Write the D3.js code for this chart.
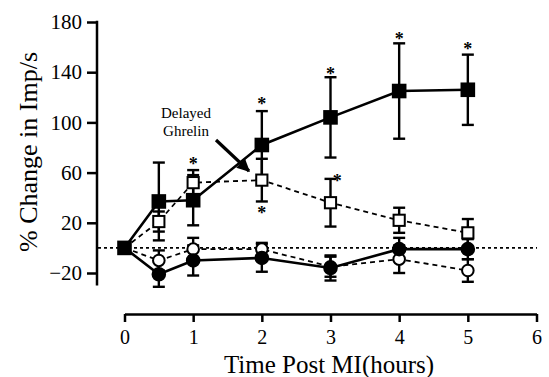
<!DOCTYPE html>
<html><head><meta charset="utf-8">
<script src="https://cdn.jsdelivr.net/npm/d3@7"></script>
<style>
html,body{margin:0;padding:0;background:#fff;}
svg{display:block;}
svg text{font-family:"Liberation Serif","Times New Roman",serif;fill:#000;}
</style></head>
<body><svg id="c" width="549" height="377"></svg>
<script>
const hours = [0, 0.5, 1, 2, 3, 4, 5];
const delayedGhrelin = [0, 37, 38, 82, 104, 125, 126];
const delayedGhrelinErr = [0, 31, 20, 27, 32, 38, 28];
const openSquare = [0, 21, 52, 54, 36, 22, 12];
const openSquareErr = [0, 8, 10, 17, 19, 10, 11];
const filledCircle = [0, -21, -10, -8, -16, -1, -1];
const filledCircleErr = [0, 10, 12, 11, 10, 9, 8];
const openCircle = [0, -10, -1, -1, -15, -9, -18];
const openCircleErr = [0, 8, 9, 5, 8, 11, 9];
const xTicks = [0, 1, 2, 3, 4, 5, 6];
const yTicks = [-20, 20, 60, 100, 140, 180];
const starX = [1, 2, 2, 3, 3.1, 4, 5];
const starY = [69, 117, 30, 141, 56, 169, 161];

const svg = d3.select("#c");
const x = d3.scaleLinear().domain([0, 6]).range([124.5, 536.5]);
const y = d3.scaleLinear().domain([-20, 180]).range([273, 22]);

// y axis
const yAxis = svg.append("g").attr("transform", "translate(97,0)")
  .call(d3.axisLeft(y).tickValues(yTicks).tickFormat(d3.format("d")).tickSize(10).tickPadding(5).tickSizeOuter(0));
yAxis.select(".domain").attr("d", `M0,${y(181)}V${y(-30)}`).attr("stroke-width", 2.5);
yAxis.selectAll(".tick line").attr("stroke-width", 2.5);
yAxis.selectAll("text").style("font-size", "21px").style("font-family", "'Liberation Serif', serif");

// x axis
const xAxis = svg.append("g").attr("transform", "translate(0,314)")
  .call(d3.axisBottom(x).tickValues(xTicks).tickFormat(d3.format("d")).tickSize(8).tickPadding(8).tickSizeOuter(0));
xAxis.select(".domain").attr("stroke-width", 2.5);
xAxis.selectAll(".tick line").attr("stroke-width", 2.5);
xAxis.selectAll("text").style("font-size", "20px").style("font-family", "'Liberation Serif', serif");

// titles
svg.append("text").attr("x", 329).attr("y", 373).attr("text-anchor", "middle")
  .style("font-size", "25px").text("Time Post MI(hours)");
svg.append("text").attr("transform", "translate(37,152) rotate(-90)").attr("text-anchor", "middle")
  .style("font-size", "26px").text("% Change in Imp/s");

// zero reference line
svg.append("line").attr("x1", 98).attr("x2", 537).attr("y1", y(0)).attr("y2", y(0))
  .attr("stroke", "#000").attr("stroke-width", 1.6).attr("stroke-dasharray", "3,3");

const series = [
  {v: openCircle, e: openCircleErr, dash: "5,4", shape: "circle", fill: "#fff"},
  {v: filledCircle, e: filledCircleErr, dash: null, shape: "circle", fill: "#000"},
  {v: openSquare, e: openSquareErr, dash: "5,4", shape: "square", fill: "#fff"},
  {v: delayedGhrelin, e: delayedGhrelinErr, dash: null, shape: "square", fill: "#000"}
];

const line = d3.line().x((d, i) => x(hours[i])).y(d => y(d));
series.forEach(s => {
  svg.append("path").attr("d", line(s.v)).attr("fill", "none").attr("stroke", "#000")
    .attr("stroke-width", s.dash ? 1.8 : 2.6).attr("stroke-dasharray", s.dash);
});

// error bars
series.forEach(s => {
  const g = svg.append("g").attr("stroke", "#000").attr("stroke-width", 2.4);
  s.v.forEach((v, i) => {
    if (!s.e[i]) return;
    const cx = x(hours[i]);
    const lo = y(v - s.e[i]), hi = y(v + s.e[i]);
    g.append("line").attr("x1", cx).attr("x2", cx).attr("y1", lo).attr("y2", hi);
    g.append("line").attr("x1", cx - 6).attr("x2", cx + 6).attr("y1", lo).attr("y2", lo);
    g.append("line").attr("x1", cx - 6).attr("x2", cx + 6).attr("y1", hi).attr("y2", hi);
  });
});

// markers
series.forEach(s => {
  s.v.forEach((v, i) => {
    const cx = x(hours[i]), cy = y(v);
    if (i === 0 && s.v !== delayedGhrelin) return;
    if (s.shape === "circle") {
      svg.append("circle").attr("cx", cx).attr("cy", cy).attr("r", s.fill === "#000" ? 6.3 : 5.8)
        .attr("fill", s.fill).attr("stroke", "#000").attr("stroke-width", 2);
    } else {
      const h = s.fill === "#000" ? 6.3 : 5.6;
      svg.append("rect").attr("x", cx - h).attr("y", cy - h).attr("width", 2 * h).attr("height", 2 * h)
        .attr("fill", s.fill).attr("stroke", "#000").attr("stroke-width", 2);
    }
  });
});

// stars
starX.forEach((sx, i) => {
  svg.append("text").attr("x", x(sx)).attr("y", y(starY[i]) + 9).attr("text-anchor", "middle")
    .style("font-size", "18px").style("font-weight", "bold").text("*");
});

// annotation
const ann = svg.append("text").attr("text-anchor", "middle").style("font-size", "15px");
ann.append("tspan").attr("x", 186).attr("y", 118).text("Delayed");
ann.append("tspan").attr("x", 186).attr("y", 135.5).text("Ghrelin");

svg.append("defs").append("marker").attr("id", "ah").attr("viewBox", "0 0 10 10")
  .attr("refX", 9).attr("refY", 5).attr("markerWidth", 4).attr("markerHeight", 4)
  .attr("orient", "auto").attr("markerUnits", "strokeWidth")
  .append("path").attr("d", "M0,0L10,5L0,10z").attr("fill", "#000");
svg.append("line").attr("x1", 216).attr("y1", 140).attr("x2", 249).attr("y2", 171)
  .attr("stroke", "#000").attr("stroke-width", 3.2).attr("marker-end", "url(#ah)");
</script></body></html>
